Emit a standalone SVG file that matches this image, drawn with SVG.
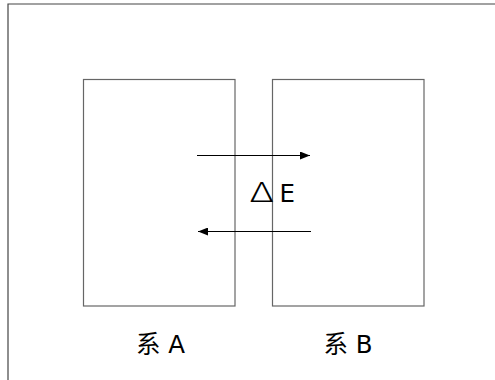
<svg xmlns="http://www.w3.org/2000/svg" width="495" height="380" viewBox="0 0 495 380">
<style>
.box{fill:none;stroke:#666;stroke-width:1.2}
.frame{fill:none;stroke:#444;stroke-width:1.2}
.conn{stroke:#000;stroke-width:1;fill:none}
.lbl{font-family:"DejaVu Sans","Noto Sans CJK SC",sans-serif;font-size:24.5px;fill:#000}
.dl{font-family:"Noto Sans CJK SC",sans-serif;font-size:27px;font-weight:300;fill:#000}
</style>
<defs>
<marker id="ah" viewBox="0 0 10 8" refX="10" refY="4" markerWidth="10" markerHeight="8" markerUnits="userSpaceOnUse" orient="auto">
<path d="M0,0 L10,4 L0,8 Z" fill="#000"/>
</marker>
</defs>
<rect width="495" height="380" fill="#fff"/>
<path class="frame" d="M8,385 V4 H500"/>
<g id="systemA">
<rect class="box" x="83.5" y="79.5" width="151.5" height="226.5"/>
<text class="lbl" x="136" y="353">系 A</text>
</g>
<g id="systemB">
<rect class="box" x="272.5" y="79.5" width="151.5" height="226.5"/>
<text class="lbl" x="323.5" y="353">系 B</text>
</g>
<g id="connectors">
<line class="conn" x1="197" y1="155.5" x2="310" y2="155.5" marker-end="url(#ah)"/>
<line class="conn" x1="311" y1="231.5" x2="198" y2="231.5" marker-end="url(#ah)"/>
</g>
<g id="deltaE">
<text class="dl" transform="translate(249.5,202) scale(1.45,1)" x="0" y="0">Δ</text>
<text class="lbl" x="279.5" y="202">E</text>
</g>
</svg>
